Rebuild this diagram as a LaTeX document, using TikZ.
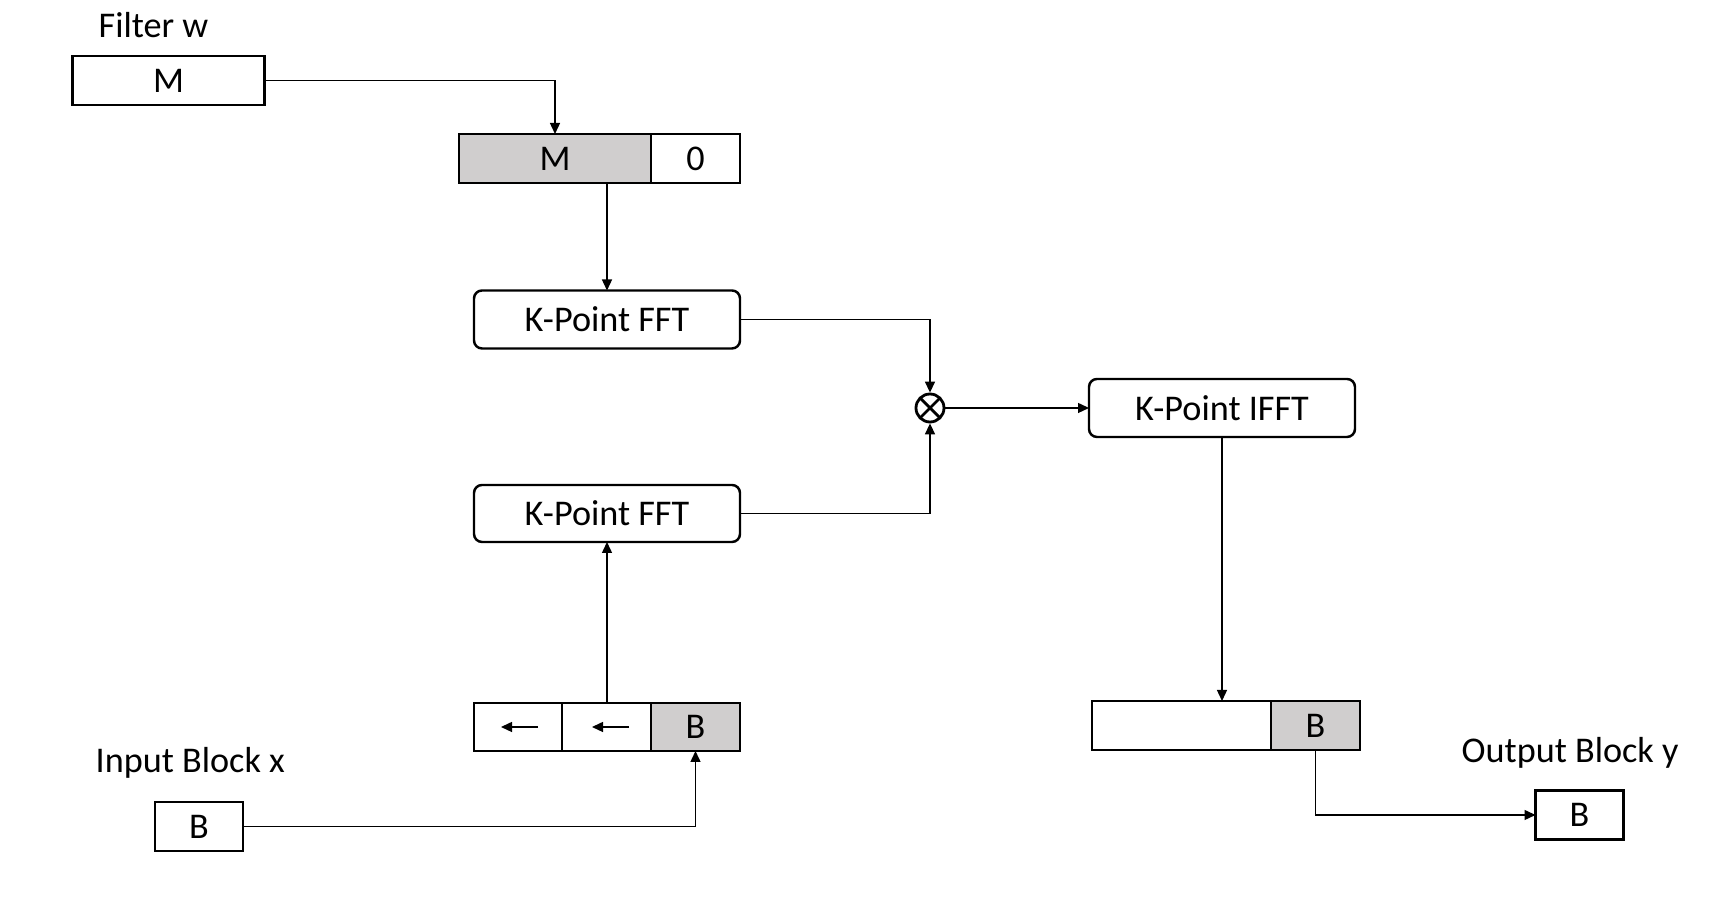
\documentclass[tikz,border=0pt]{standalone}
\usepackage{fontspec}
\setmainfont{Carlito}
\usetikzlibrary{calc}
\usetikzlibrary{arrows.meta}

\definecolor{cellgray}{RGB}{208,206,206}

\begin{document}
\begin{tikzpicture}[scale=1.0,
        every node/.style={font=\fontsize{10.3pt}{12pt}\selectfont},
        lbl/.style={anchor=base west,inner sep=0pt},
        box/.style={draw,line width=0.7pt,minimum height=0.49cm,inner sep=0pt,outer sep=0pt},
        blk/.style={draw,line width=0.7pt,rounded corners=0.08cm,minimum width=2.66cm,minimum height=0.58cm,inner sep=0pt,outer sep=0pt},
        full/.style={fill=cellgray},
        wire/.style={line width=0.4pt},
        arr/.style={wire,-{Triangle[length=0.11cm,width=0.1cm]}}]
                \useasboundingbox (0,0) rectangle (17.19,9.15);

                % filter path
                \node[lbl] (filtlbl) at (0.98,8.773) {Filter w};
                \node[box,minimum width=1.92cm] (filtM) at (1.685,8.345) {M};

                \node[box,full,minimum width=1.92cm] (zpM) at (5.55,7.565) {M};
                \node[box,minimum width=0.89cm,anchor=west] (zp0) at (zpM.east) {0};

                \node[blk] (fftW) at (6.07,5.955) {K-Point FFT};

                % input path
                \node[lbl] (inlbl) at (0.95,1.42) {Input Block x};
                \node[box,minimum width=0.88cm] (inputB) at (1.99,0.885) {B};

                \node[box,minimum width=0.88cm,minimum height=0.48cm] (in1) at (5.18,1.88) {};
                \node[box,minimum width=0.89cm,minimum height=0.48cm,anchor=west] (in2) at (in1.east) {};
                \node[box,full,minimum width=0.89cm,minimum height=0.48cm,anchor=west] (inB) at (in2.east) {B};

                \node[blk,minimum height=0.57cm] (fftX) at (6.07,4.015) {K-Point FFT};

                % product and inverse
                \node[circle,draw,line width=0.8pt,minimum size=0.28cm,inner sep=0pt,
                      path picture={
                        \draw[line width=0.8pt] ($(path picture bounding box.center)+(45:0.14)$) -- ($(path picture bounding box.center)+(225:0.14)$);
                        \draw[line width=0.8pt] ($(path picture bounding box.center)+(135:0.14)$) -- ($(path picture bounding box.center)+(315:0.14)$);
                      }] (mult) at (9.30,5.07) {};

                \node[blk] (ifft) at (12.22,5.07) {K-Point IFFT};

                % output path
                \node[box,minimum width=1.79cm] (outL) at (11.815,1.895) {};
                \node[box,full,minimum width=0.89cm,anchor=west] (outB) at (outL.east) {B};

                \node[lbl] (outlbl) at (14.61,1.52) {Output Block y};
                \node[box,minimum width=0.88cm] (outputB) at (15.795,1.0) {B};

                % shift arrows
                \draw[arr] ($(in1.center)+(0.20,0)$) -- ($(in1.center)+(-0.17,0)$);
                \draw[arr] ($(in2.center)+(0.225,0)$) -- ($(in2.center)+(-0.145,0)$);

                % connectors
                \draw[arr] (filtM.east) -| (zpM.north);
                \draw[arr] (zpM.south -| fftW.north) -- (fftW.north);
                \draw[arr] (fftW.east) -| (mult.north);
                \draw[arr] (fftX.east) -| (mult.south);
                \draw[arr] (mult.east) -- (ifft.west);
                \draw[arr] (ifft.south) -- (ifft.south |- outL.north);
                \draw[arr] (fftX.south |- in2.north) -- (fftX.south);
                \draw[arr] (inputB.east) -| (inB.south);
                \draw[arr] (outB.south) |- (outputB.west);
\end{tikzpicture}
\end{document}
